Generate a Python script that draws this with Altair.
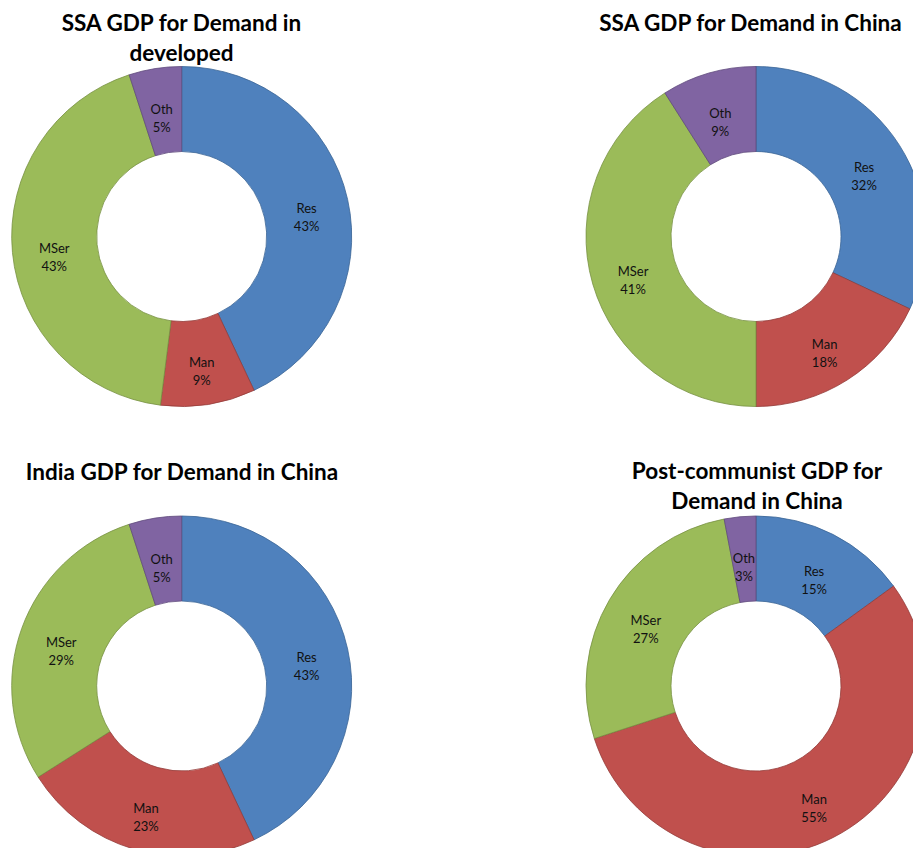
import altair as alt
import pandas as pd

cats = ["Res", "Man", "MSer", "Oth"]
fill_colors = ["#4F81BD", "#C0504D", "#9BBB59", "#8064A2"]
stroke_colors = ["#3A6496", "#933B38", "#779043", "#5F4A7C"]

titles = [
    ["SSA GDP for Demand in", "developed"],
    ["SSA GDP for Demand in China"],
    ["India GDP for Demand in China"],
    ["Post-communist GDP for", "Demand in China"],
]
values = [
    [43, 9, 43, 5],
    [32, 18, 41, 9],
    [43, 23, 29, 5],
    [15, 55, 27, 3],
]

# layout (chart coordinates; page = chart + 8px margin)
centers = [(173.7, 228.5), (748.0, 228.5), (173.7, 678.0), (748.0, 678.0)]
title_x = [173.5, 742.5, 174.0, 749.0]
title_y = [22.5, 22.5, 472.0, 471.0]
R_OUT, R_IN, R_LAB = 170, 85, 128
FONT = "Lato"

color_scale = alt.Scale(domain=cats, range=fill_colors)
stroke_scale = alt.Scale(domain=cats, range=stroke_colors)

layers = []
for i in range(4):
    df = pd.DataFrame({
        "cat": cats,
        "val": values[i],
        "order": list(range(len(cats))),
        "label": [f"{c}\n{v}%" for c, v in zip(cats, values[i])],
    })
    cx, cy = centers[i]
    base = alt.Chart(df).encode(
        theta=alt.Theta("val:Q", stack=True, scale=alt.Scale(domain=[0, 100])),
        order=alt.Order("order:Q"),
    )
    arc = base.mark_arc(x=cx, y=cy, radius=R_OUT, radius2=R_IN, strokeWidth=0.8).encode(
        color=alt.Color("cat:N", scale=color_scale, legend=None),
        stroke=alt.Stroke("cat:N", scale=stroke_scale, legend=None),
    )
    txt = base.mark_text(
        x=cx, y=cy, radius=R_LAB, lineBreak="\n", font=FONT, fontSize=13,
        lineHeight=18, color="#111111", baseline="middle", align="center",
    ).encode(text="label:N")
    tdf = pd.DataFrame({"t": titles[i], "line": list(range(len(titles[i])))})
    title = alt.Chart(tdf).mark_text(
        font=FONT, fontSize=22.5, fontWeight="bold", color="#000000",
        align="center", baseline="alphabetic", x=title_x[i],
    ).encode(
        text="t:N",
        y=alt.Y("line:Q", scale=alt.Scale(domain=[0, 1], range=[title_y[i], title_y[i] + 30]), axis=None),
    )
    layers += [arc, txt, title]

chart = alt.layer(*layers).resolve_scale(y="independent").properties(
    width=905, height=840, padding=0,
    autosize=alt.AutoSizeParams(type="none"),
).configure_view(stroke=None)

chart.save("out.html", embed_options={"renderer": "svg", "actions": False})
